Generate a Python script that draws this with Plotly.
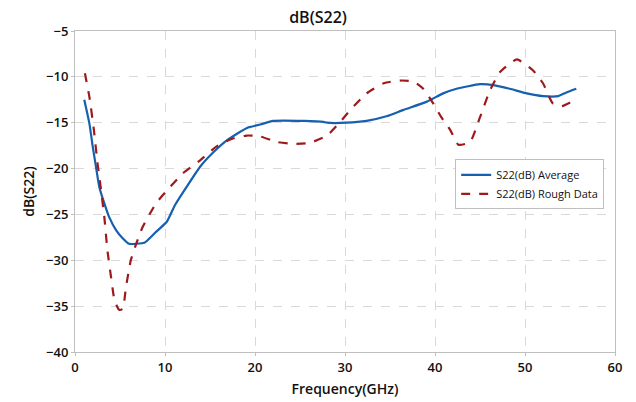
import plotly.graph_objects as go

avg_x = [1.03, 1.6, 1.97, 2.33, 2.7, 3.26, 3.8, 4.56, 5.3, 6.0, 6.8, 7.7, 9.0, 10.2, 11.1,
         12.4, 13.9, 15.4, 16.9, 18.0, 19.3, 20.6, 22.0, 25.4, 27.6, 28.0, 30.2, 32.4, 34.6,
         36.5, 39.1, 40.9, 42.4, 45.0, 46.5, 48.3, 50.2, 52.0, 53.7, 54.6, 55.7]
avg_y = [-12.5, -15.1, -17.6, -19.8, -22.0, -23.8, -25.3, -26.7, -27.6, -28.2, -28.2, -28.1,
         -26.9, -25.8, -24.0, -22.0, -19.8, -18.2, -16.9, -16.2, -15.5, -15.2, -14.8, -14.8,
         -14.9, -15.0, -15.0, -14.8, -14.3, -13.6, -12.7, -11.8, -11.3, -10.8, -10.9, -11.3,
         -11.8, -12.1, -12.1, -11.7, -11.3]

rough_x = [1.1, 1.6, 2.1, 2.5, 2.9, 3.26, 3.6, 4.0, 4.4, 4.9, 5.3, 5.67, 6.2, 6.8, 7.5, 9.0,
           10.2, 12.0, 13.9, 15.7, 17.6, 19.1, 20.6, 22.4, 24.3, 26.1, 28.0, 29.3, 30.6,
           32.4, 34.3, 36.1, 37.6, 38.7, 39.8, 40.7, 41.7, 42.6, 43.9, 45.0, 46.1, 47.2, 49.1,
           50.9, 52.0, 53.1, 54.1, 55.6]
rough_y = [-9.6, -12.2, -15.8, -19.4, -22.4, -25.3, -28.9, -31.8, -34.4, -35.4, -35.3, -32.9,
           -30.0, -28.2, -26.4, -23.8, -22.4, -20.5, -19.1, -17.6, -16.7, -16.4, -16.5, -17.1,
           -17.3, -17.2, -16.4, -15.1, -13.6, -11.8, -10.7, -10.4, -10.5, -11.3, -12.9, -14.4,
           -15.8, -17.4, -17.1, -14.4, -11.5, -9.5, -8.1, -9.3, -10.7, -12.9, -13.2, -12.5]

x_ticks = [0, 10, 20, 30, 40, 50, 60]
y_ticks = [-5, -10, -15, -20, -25, -30, -35, -40]

fig = go.Figure()
fig.add_trace(go.Scatter(x=avg_x, y=avg_y, mode="lines", name="S22(dB) Average",
                         line=dict(color="#1660B0", width=2.2, shape="spline", smoothing=0.5)))
fig.add_trace(go.Scatter(x=rough_x, y=rough_y, mode="lines", name="S22(dB) Rough Data",
                         line=dict(color="#9E1A1A", width=2.2, dash="dash", shape="spline", smoothing=0.5)))

font_family = "Open Sans, Noto Sans, sans-serif"
tick_font = dict(size=13, color="#111111", family=font_family, weight=600)
title_font = dict(size=14, color="#111111", family=font_family, weight=600)
axis_common = dict(showgrid=True, gridcolor="#D9D9D9", griddash="dash", gridwidth=1,
                   showline=True, linecolor="#BFBFBF", linewidth=1, mirror=True,
                   ticks="outside", ticklen=3, tickcolor="#BFBFBF",
                   zeroline=False, tickfont=tick_font, automargin=False)

fig.update_layout(
    width=636, height=402,
    margin=dict(l=75, r=21, t=31, b=50),
    paper_bgcolor="white", plot_bgcolor="white",
    title=dict(text="dB(S22)", x=0.5, xanchor="center", y=0.957, yanchor="middle",
               font=dict(size=16, color="#111111", family=font_family, weight=600)),
    xaxis=dict(range=[0, 60], tickvals=x_ticks,
               title=dict(text="Frequency(GHz)", font=title_font, standoff=9),
               **axis_common),
    yaxis=dict(range=[-40, -5], tickvals=y_ticks,
               title=dict(text="dB(S22)", font=title_font, standoff=8),
               **axis_common),
    legend=dict(x=0.704, y=0.60, xanchor="left", yanchor="top",
                bgcolor="white", bordercolor="#BFBFBF", borderwidth=1,
                font=dict(size=11, color="#111111", family=font_family),
                tracegroupgap=0, itemwidth=30),
    showlegend=True,
)

fig.write_html("out.html")
